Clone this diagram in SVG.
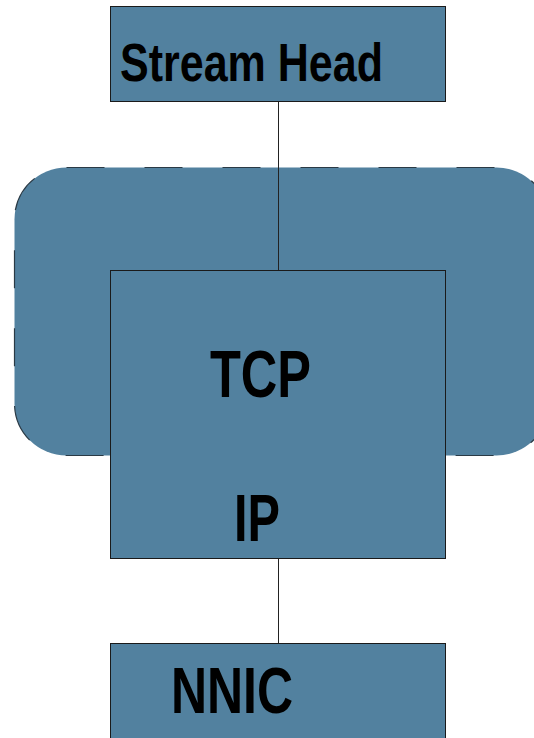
<svg xmlns="http://www.w3.org/2000/svg" width="534" height="738" viewBox="0 0 534 738">
<style>
.box{fill:#52819F;stroke:#1a1a1a;stroke-width:1}
.lbl{font-family:"Liberation Sans",Arial,sans-serif;font-weight:bold;fill:#000}
.conn{stroke:#222;stroke-width:1;fill:none}
</style>
<rect width="534" height="738" fill="#fff"/>
<g id="group-frame">
<rect x="14.5" y="167.5" width="534" height="288" rx="52" ry="52" fill="#52819F" stroke="#2a3a45" stroke-width="1.2" stroke-dasharray="38 40"/>
</g>
<g id="connectors">
<line class="conn" x1="278.5" y1="101" x2="278.5" y2="270"/>
<line class="conn" x1="278.5" y1="559" x2="278.5" y2="643"/>
</g>
<g id="stream-head">
<rect class="box" x="110.5" y="6.5" width="335" height="95"/>
<text class="lbl" x="120" y="81" font-size="53" textLength="263" lengthAdjust="spacingAndGlyphs">Stream Head</text>
</g>
<g id="tcp-ip">
<rect class="box" x="110.5" y="270.5" width="335" height="288"/>
<text class="lbl" x="210" y="397" font-size="66" textLength="101" lengthAdjust="spacingAndGlyphs">TCP</text>
<text class="lbl" x="234" y="541" font-size="66" textLength="46" lengthAdjust="spacingAndGlyphs">IP</text>
</g>
<g id="nnic">
<rect class="box" x="110.5" y="643.5" width="335" height="110"/>
<text class="lbl" x="171" y="713" font-size="64" textLength="122" lengthAdjust="spacingAndGlyphs">NNIC</text>
</g>
</svg>
